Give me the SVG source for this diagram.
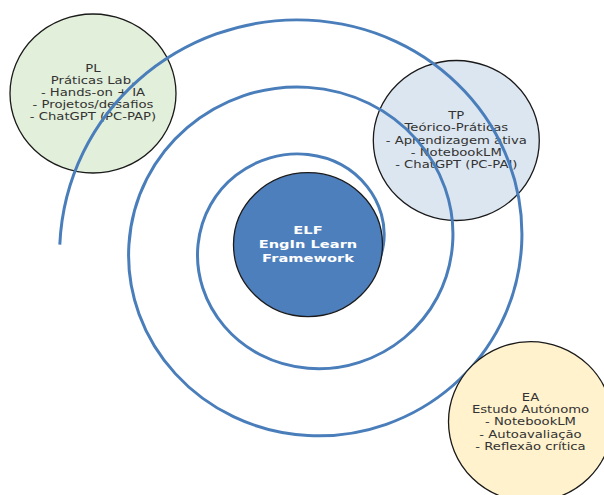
<svg xmlns="http://www.w3.org/2000/svg" width="604" height="495" viewBox="0 0 604 495">
<style>
.node{stroke:#1a1a1a;stroke-width:1.3}
.lbl{font-family:"DejaVu Sans","Liberation Sans",sans-serif;font-size:10px;fill:#333;text-anchor:middle}
.core{font-family:"DejaVu Sans","Liberation Sans",sans-serif;font-size:11px;font-weight:bold;fill:#fff;text-anchor:middle}
.spiral{fill:none;stroke:#4a7ebb;stroke-width:3}
</style>
<rect width="604" height="495" fill="#fff"/>
<g id="PL">
<ellipse class="node" cx="93" cy="93.5" rx="83" ry="79.5" fill="#e2efda"/>
<g transform="translate(93,0) scale(1.32,1)">
<text class="lbl" x="0" y="71.8">PL</text>
<text class="lbl" x="0" y="83.9">Práticas Lab.</text>
<text class="lbl" x="0" y="96">- Hands-on + IA</text>
<text class="lbl" x="0" y="108.1">- Projetos/desafios</text>
<text class="lbl" x="0" y="120.2">- ChatGPT (PC-PAP)</text>
</g>
</g>
<g id="TP">
<ellipse class="node" cx="456.3" cy="140.5" rx="83" ry="80" fill="#dce6f1"/>
<g transform="translate(456.3,0) scale(1.32,1)">
<text class="lbl" x="0" y="119.3">TP</text>
<text class="lbl" x="0" y="131.5">Teórico-Práticas</text>
<text class="lbl" x="0" y="143.7">- Aprendizagem ativa</text>
<text class="lbl" x="0" y="155.9">- NotebookLM</text>
<text class="lbl" x="0" y="168.1">- ChatGPT (PC-PAI)</text>
</g>
</g>
<g id="connectors">
<path class="spiral" transform="translate(308,244.6) scale(1,0.972)" d="M-248.2,0 C-242.13,-137.08 -127.54,-237 0,-230.92 C127.54,-224.85 219.72,-117.99 213.64,0 C207.57,117.99 108.45,202.44 0,196.36 C-108.45,190.29 -185.16,98.91 -179.08,0 C-173.01,-98.91 -89.36,-167.88 0,-161.8 C89.36,-155.73 150.61,-79.82 144.53,0 C138.46,79.82 70.28,133.33 0,127.25 C-70.28,121.18 -116.05,60.74 -109.97,0 C-103.9,-60.74 -51.19,-98.77 0,-92.69 C51.19,-86.62 81.49,-41.65 75.41,0 C73.19,15.2 66.45,28.66 56.79,38.85"/>
</g>
<g id="ELF">
<ellipse class="node" cx="308" cy="244.6" rx="74.5" ry="72" fill="#4e7fbd"/>
<g transform="translate(308,0) scale(1.33,1)">
<text class="core" x="0" y="234.2">ELF</text>
<text class="core" x="0" y="248.3">EngIn Learn</text>
<text class="core" x="0" y="262.4">Framework</text>
</g>
</g>
<g id="EA">
<ellipse class="node" cx="530.5" cy="421.7" rx="82" ry="80" fill="#fff2cc"/>
<g transform="translate(530.5,0) scale(1.32,1)">
<text class="lbl" x="0" y="401.3">EA</text>
<text class="lbl" x="0" y="413.4">Estudo Autónomo</text>
<text class="lbl" x="0" y="425.5">- NotebookLM</text>
<text class="lbl" x="0" y="437.6">- Autoavaliação</text>
<text class="lbl" x="0" y="449.7">- Reflexão crítica</text>
</g>
</g>
</svg>
